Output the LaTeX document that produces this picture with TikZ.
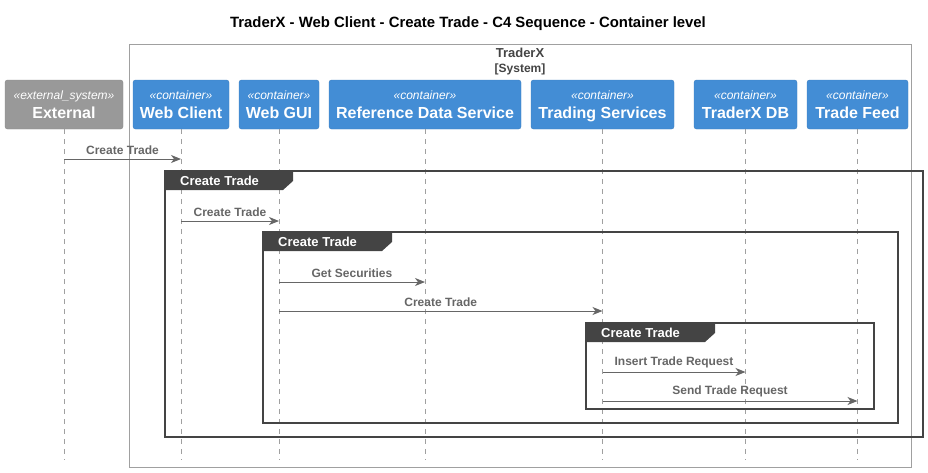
\documentclass[tikz,border=0pt]{standalone}
\usepackage{fontspec}
\setmainfont{Liberation Sans}
\usetikzlibrary{arrows.meta}

\definecolor{c4blue}{HTML}{438DD5}
\definecolor{c4blueline}{HTML}{3C7FC0}
\definecolor{extgray}{HTML}{999999}
\definecolor{extline}{HTML}{8A8A8A}
\definecolor{framegray}{HTML}{444444}
\definecolor{msggray}{HTML}{666666}
\definecolor{lifegray}{HTML}{A0A0A0}

\newcommand{\stereo}[1]{{\fontsize{12}{14}\selectfont\mdseries\itshape «#1»}}

\begin{document}
\begin{tikzpicture}[
    x=1pt, y=-1pt,
    >={Stealth[length=10pt,width=8pt,inset=3pt]},
    part/.style={draw=c4blueline, fill=c4blue, text=white, rounded corners=2.5pt,
        minimum height=49pt, inner sep=0pt, align=center, text depth=-3pt,
        font=\fontsize{16}{19}\selectfont\bfseries},
    life/.style={draw=lifegray, line width=0.8pt, dash pattern=on 5pt off 5pt},
    msg/.style={->, draw=msggray, line width=1pt},
    lbl/.style={above, inner sep=3.5pt, text=msggray, font=\fontsize{12}{14}\selectfont\bfseries},
    frame/.style={draw=framegray, line width=1.5pt},
    tab/.style={fill=framegray},
    tablbl/.style={anchor=west, inner sep=0pt, text=white, font=\fontsize{13}{15}\selectfont\bfseries}]

    \useasboundingbox (0,0) rectangle (928,472);

    % title
    \node[font=\fontsize{14.9}{17}\selectfont\bfseries] (title) at (468,24)
        {TraderX - Web Client - Create Trade - C4 Sequence - Container level};

    % system boundary
    \draw[draw=lifegray, line width=0.8pt] (129,44) rectangle (911,467);
    \node[text=framegray, font=\fontsize{13}{15}\selectfont\bfseries] (sys) at (520,53) {TraderX};
    \node[text=framegray, font=\fontsize{12}{14}\selectfont\bfseries] (syst) at (520,69) {[System]};

    % participants
    \node[part, draw=extline, fill=extgray, minimum width=118pt] (ext) at (64,104.5)
        {\stereo{external\_system}\\External};
    \node[part, minimum width=96pt] (wc) at (181,104.5) {\stereo{container}\\Web Client};
    \node[part, minimum width=80pt] (gui) at (279,104.5) {\stereo{container}\\Web GUI};
    \node[part, minimum width=192pt] (ref) at (425,104.5) {\stereo{container}\\Reference Data Service};
    \node[part, minimum width=143pt] (ts) at (602.5,104.5) {\stereo{container}\\Trading Services};
    \node[part, minimum width=103pt] (db) at (745.5,104.5) {\stereo{container}\\TraderX DB};
    \node[part, minimum width=101pt] (feed) at (857.5,104.5) {\stereo{container}\\Trade Feed};

    % lifelines
    \coordinate (bot) at (0,460);
    \foreach \p in {ext,wc,gui,ref,ts,db,feed}
        \draw[life] (\p.south) -- (\p.south |- bot);

    % frames
    \draw[frame] (165,171) rectangle (923,437);
    \fill[tab] (165,171) -- (293,171) -- (293,181) -- (283,190) -- (165,190) -- cycle;
    \node[tablbl] (f1) at (180,180.5) {Create Trade};

    \draw[frame] (263,232) rectangle (898,423);
    \fill[tab] (263,232) -- (392,232) -- (392,242) -- (382,251) -- (263,251) -- cycle;
    \node[tablbl] (f2) at (278,241.5) {Create Trade};

    \draw[frame] (586,323) rectangle (874,409);
    \fill[tab] (586,323) -- (715,323) -- (715,333) -- (705,342) -- (586,342) -- cycle;
    \node[tablbl] (f3) at (601,332.5) {Create Trade};

    % messages
    \coordinate (r1) at (0,159);
    \coordinate (r2) at (0,221);
    \coordinate (r3) at (0,282);
    \coordinate (r4) at (0,311);
    \coordinate (r5) at (0,372);
    \coordinate (r6) at (0,401);

    \draw[msg] (ext |- r1) -- node[lbl] {Create Trade} (wc |- r1);
    \draw[msg] (wc |- r2) -- node[lbl] {Create Trade} (gui |- r2);
    \draw[msg] (gui |- r3) -- node[lbl] {Get Securities} (ref |- r3);
    \draw[msg] (gui |- r4) -- node[lbl] {Create Trade} (ts |- r4);
    \draw[msg] (ts |- r5) -- node[lbl] {Insert Trade Request} (db |- r5);
    \draw[msg] (ts |- r6) -- node[lbl] {Send Trade Request} (feed |- r6);

\end{tikzpicture}
\end{document}
